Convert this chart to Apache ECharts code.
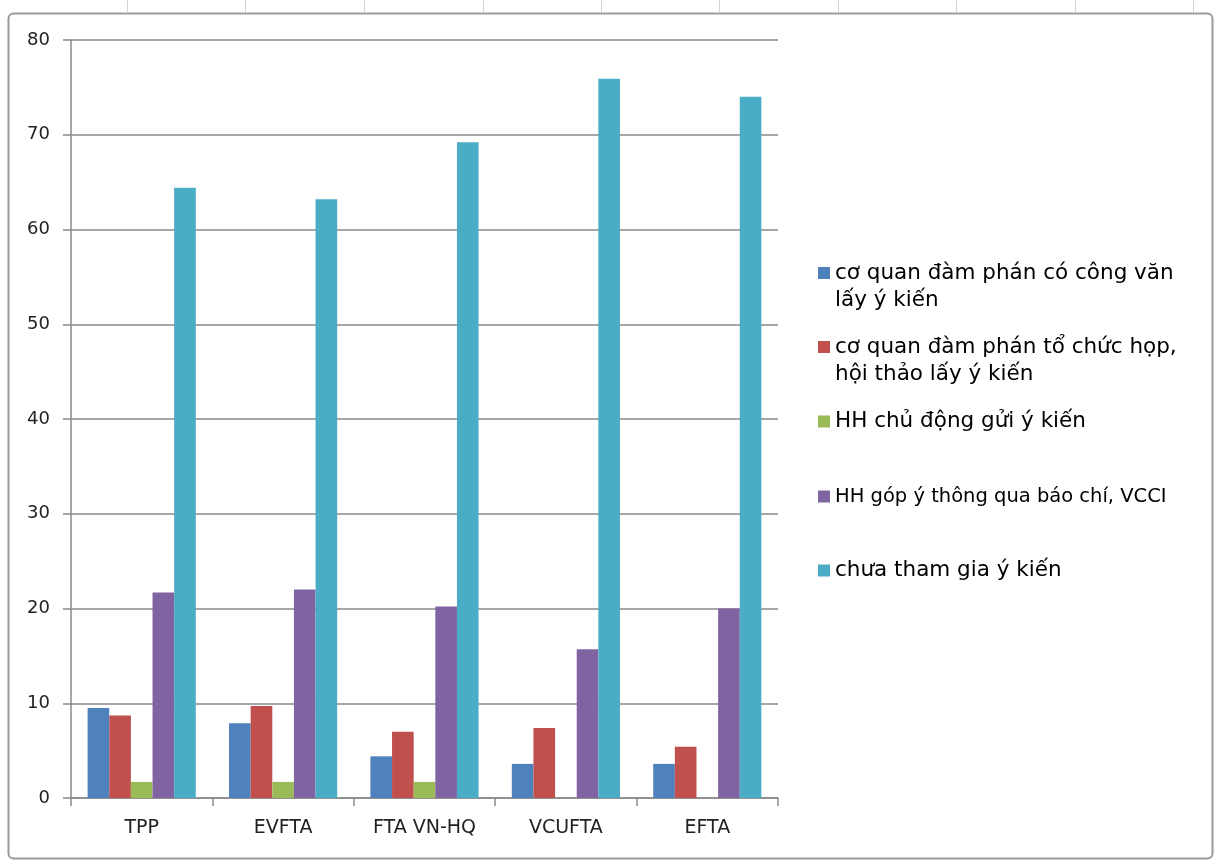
<!DOCTYPE html>
<html>
<head>
<meta charset="utf-8">
<script src="https://cdn.jsdelivr.net/npm/echarts@6/dist/echarts.min.js"></script>
<style>
html,body{margin:0;padding:0;background:#fff;}
#c{width:1217px;height:864px;}
</style>
</head>
<body>
<div id="c"></div>
<script>
const categories = ['TPP', 'EVFTA', 'FTA VN-HQ', 'VCUFTA', 'EFTA'];
const seriesNames = [
  'cơ quan đàm phán có công văn lấy ý kiến',
  'cơ quan đàm phán tổ chức họp, hội thảo lấy ý kiến',
  'HH chủ động gửi ý kiến',
  'HH góp ý thông qua báo chí, VCCI',
  'chưa tham gia ý kiến'
];
const congVan   = [9.5, 7.9, 4.4, 3.6, 3.6];
const hopHoiThao = [8.7, 9.7, 7.0, 7.4, 5.4];
const chuDong   = [1.7, 1.7, 1.7, 0, 0];
const baoChi    = [21.7, 22.0, 20.2, 15.7, 20.0];
const chuaThamGia = [64.4, 63.2, 69.2, 75.9, 74.0];
const yTicks = [0, 10, 20, 30, 40, 50, 60, 70, 80];

const seriesValues = [congVan, hopHoiThao, chuDong, baoChi, chuaThamGia];
const colors = ['#4F81BD', '#C0504D', '#9BBB59', '#8064A2', '#4BACC6'];
const legendLabels = {};
legendLabels[seriesNames[0]] = 'cơ quan đàm phán có công văn\nlấy ý kiến';
legendLabels[seriesNames[1]] = 'cơ quan đàm phán tổ chức họp,\nhội thảo lấy ý kiến';

const legendCenters = [273, 347, 421.5, 496.5, 570.5];
const twoLineIcon = 'path://M0,0L12,0L12,12L0,12Z M0,39L0.01,39';

const chart = echarts.init(document.getElementById('c'), null, {renderer: 'canvas'});

const legends = seriesNames.map((n, i) => {
  const twoLine = !!legendLabels[n];
  return {
    data: [n],
    left: 818,
    top: legendCenters[i] - 13.5,
    padding: 0,
    orient: 'vertical',
    itemWidth: 12,
    itemHeight: twoLine ? 39 : 12,
    icon: twoLine ? twoLineIcon : 'rect',
    selectedMode: false,
    formatter: name => legendLabels[name] || name,
    textStyle: {
      fontFamily: 'DejaVu Sans',
      fontSize: i === 3 ? 19.5 : 21.5,
      color: '#000',
      lineHeight: 27
    }
  };
});

const excelCols = [127, 245, 364, 483, 601, 719, 838, 956, 1075, 1193];
const graphics = excelCols.map(x => ({
  type: 'line', silent: true,
  shape: {x1: x + 0.5, y1: 0, x2: x + 0.5, y2: 12},
  style: {stroke: '#d4d4d4', lineWidth: 1}
}));
graphics.push({
  type: 'rect', silent: true, z: -1,
  shape: {x: 8.5, y: 13.5, width: 1204, height: 845, r: 5},
  style: {fill: '#fff', stroke: '#9a9a9a', lineWidth: 2}
});

chart.setOption({
  animation: false,
  backgroundColor: '#fff',
  color: colors,
  graphic: graphics,
  legend: legends,
  grid: {left: 71, right: 439, top: 40, bottom: 66, containLabel: false},
  xAxis: {
    type: 'category',
    data: categories,
    axisLine: {lineStyle: {color: '#8a8a8a', width: 1.5}},
    axisTick: {show: true, length: 8, lineStyle: {color: '#8a8a8a', width: 1.5}},
    axisLabel: {fontFamily: 'DejaVu Sans', fontSize: 19, color: '#222', margin: 21}
  },
  yAxis: {
    type: 'value',
    min: yTicks[0],
    max: yTicks[yTicks.length - 1],
    interval: 10,
    axisLine: {show: true, lineStyle: {color: '#8a8a8a', width: 1.5}},
    axisTick: {show: true, length: 8, lineStyle: {color: '#8a8a8a', width: 1.5}},
    splitLine: {lineStyle: {color: '#8a8a8a', width: 1.5}},
    axisLabel: {fontFamily: 'DejaVu Sans', fontSize: 18, color: '#222', margin: 21}
  },
  series: seriesNames.map((n, i) => ({
    name: n,
    type: 'bar',
    data: seriesValues[i],
    barGap: '0%',
    barCategoryGap: '23.5%',
    itemStyle: {color: colors[i]}
  }))
});
</script>
</body>
</html>
